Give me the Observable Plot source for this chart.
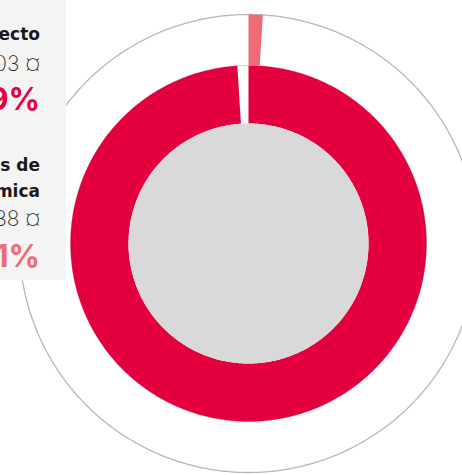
<!DOCTYPE html>
<html>
<head>
<meta charset="utf-8">
<script src="https://cdn.jsdelivr.net/npm/d3@7"></script>
<script src="https://cdn.jsdelivr.net/npm/@observablehq/plot@0.6"></script>
<style>
  html, body { margin: 0; padding: 0; background: #fff; overflow: hidden; }
  #wrap { position: relative; width: 462px; height: 475px; font-family: Inter, "Open Sans", sans-serif; }
  #chart { position: absolute; left: 0; top: 0; }
  #legend { position: absolute; left: -234px; top: 0; width: 300px; height: 280px; background: #f4f4f4; }
  #legend div { position: absolute; right: 26px; white-space: nowrap; text-align: right; }
  .lab { font-family: "DejaVu Sans", sans-serif; font-weight: 700; font-size: 17px; line-height: 17px; color: #1a1a1a; }
  .amt { font-weight: 200; font-size: 21px; line-height: 21px; color: #222; }
  .pct { font-weight: 700; font-size: 31px; line-height: 31px; }
</style>
</head>
<body>
<div id="wrap">
  <div id="chart"></div>
  <div id="legend"></div>
</div>
<script>
// ---- data ----
const categories = ["Coste directo del proyecto", "Gastos de gestión académica"];
const amounts = ["1.245.603 ¤", "12.538 ¤"];
const shares = [99, 1];          // percent of total
const seriesColors = ["#e4003f", "#ee6b78"];

// ---- geometry (pixel radii) ----
const R_OUTER = 229, R_RING = 178, R_INNER = 120;

function arcPolygon(r0, r1, a0, a1) {
  const pts = [];
  const n = Math.max(2, Math.ceil((a1 - a0) / 0.5));
  for (let i = 0; i <= n; i++) {
    const a = (a0 + (a1 - a0) * i / n) * Math.PI / 180;
    pts.push({x: r1 * Math.sin(a), y: r1 * Math.cos(a)});
  }
  for (let i = n; i >= 0; i--) {
    const a = (a0 + (a1 - a0) * i / n) * Math.PI / 180;
    pts.push({x: r0 * Math.sin(a), y: r0 * Math.cos(a)});
  }
  pts.push(pts[0]);
  return pts;
}
function circle(r) {
  const pts = [];
  for (let i = 0; i <= 720; i++) {
    const a = i * 0.5 * Math.PI / 180;
    pts.push({x: r * Math.sin(a), y: r * Math.cos(a)});
  }
  return pts;
}

const mainAngle = shares[0] / 100 * 360;
const secondAngle = shares[1] / 100 * 360;

const plot = Plot.plot({
  width: 462, height: 475, margin: 0,
  x: {domain: [-248, 214], range: [0, 462], axis: null},
  y: {domain: [243, -232], range: [0, 475], axis: null},
  marks: [
    Plot.line(circle(R_OUTER), {x: "x", y: "y", stroke: "#b8b8b8", strokeWidth: 1.3}),
    Plot.line(circle(R_RING), {x: "x", y: "y", stroke: "#c8c8c8", strokeWidth: 1}),
    Plot.line(arcPolygon(R_INNER, R_RING, 0, mainAngle), {x: "x", y: "y", fill: seriesColors[0], stroke: "none"}),
    Plot.line(arcPolygon(R_RING, R_OUTER, 0, secondAngle), {x: "x", y: "y", fill: seriesColors[1], stroke: "none"}),
    Plot.line(circle(R_INNER), {x: "x", y: "y", fill: "#d9d9d9", stroke: "none"})
  ]
});
document.getElementById("chart").appendChild(plot);

// ---- legend ----
const legend = document.getElementById("legend");
const rows = [
  {cls: "lab", text: "Coste directo", top: 26},
  {cls: "amt", text: amounts[0], top: 53},
  {cls: "pct", text: shares[0] + "%", top: 83, color: seriesColors[0]},
  {cls: "lab", text: "Gastos de", top: 157},
  {cls: "lab", text: "gestión académica", top: 183},
  {cls: "amt", text: amounts[1], top: 208},
  {cls: "pct", text: shares[1] + "%", top: 240, color: seriesColors[1]}
];
for (const r of rows) {
  const d = document.createElement("div");
  d.className = r.cls;
  d.textContent = r.text;
  d.style.top = r.top + "px";
  if (r.color) d.style.color = r.color;
  legend.appendChild(d);
}
</script>
</body>
</html>
